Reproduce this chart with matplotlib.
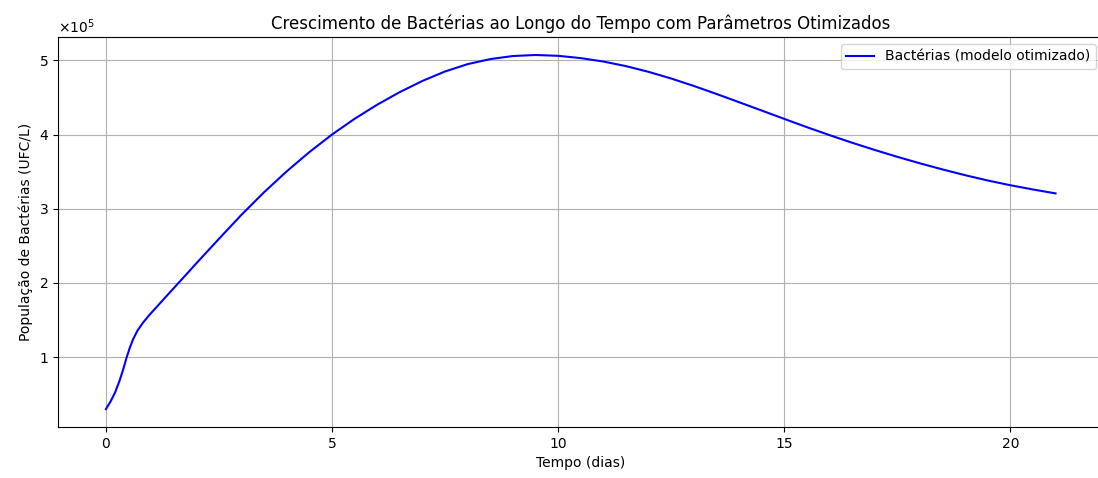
import numpy as np
import matplotlib
matplotlib.use('Agg')
import matplotlib.pyplot as plt
from matplotlib.ticker import ScalarFormatter

# tempo (dias) e populacao (x1e5 UFC/L)
tempo = [0.0, 0.1, 0.2, 0.3, 0.38, 0.455, 0.53, 0.6, 0.7, 0.82, 0.97, 1.12, 1.35,
         1.59, 1.8, 2.0, 2.25, 2.5, 3.0, 3.5, 4.0, 4.5, 5.0, 5.5, 6.0,
         6.5, 7.0, 7.5, 8.0, 8.5, 9.0, 9.5, 10.0, 10.5, 11.0, 11.5, 12.0,
         12.5, 13.0, 13.5, 14.0, 14.5, 15.0, 15.5, 16.0, 16.5, 17.0, 17.5, 18.0,
         18.5, 19.0, 19.5, 20.0, 20.5, 21.0]
populacao = [0.30, 0.40, 0.52, 0.68, 0.83, 0.99, 1.13, 1.24, 1.36, 1.465, 1.575, 1.675, 1.83,
             1.99, 2.13, 2.265, 2.43, 2.595, 2.92, 3.224, 3.505, 3.764, 4.0, 4.2125, 4.4025,
             4.5725, 4.7225, 4.85, 4.949, 5.017, 5.058, 5.072, 5.061, 5.03, 4.984, 4.922, 4.845,
             4.755, 4.655, 4.5475, 4.436, 4.324, 4.211, 4.10, 3.9925, 3.89, 3.7925, 3.70, 3.6125,
             3.53, 3.4525, 3.381, 3.317, 3.26, 3.207]
populacao = np.array(populacao) * 1e5

fig, ax = plt.subplots(figsize=(10.98, 4.78), dpi=100)
fig.subplots_adjust(left=0.0532, right=1.0046, bottom=0.107, top=0.922)
ax.plot(tempo, populacao, color='blue', label='Bactérias (modelo otimizado)')
ax.set_title('Crescimento de Bactérias ao Longo do Tempo com Parâmetros Otimizados')
ax.set_xlabel('Tempo (dias)')
ax.set_ylabel('População de Bactérias (UFC/L)')
fmt = ScalarFormatter(useMathText=True)
fmt.set_powerlimits((0, 0))
ax.yaxis.set_major_formatter(fmt)
ax.legend(loc='upper right')
ax.grid(True)
plt.savefig('out.png')
